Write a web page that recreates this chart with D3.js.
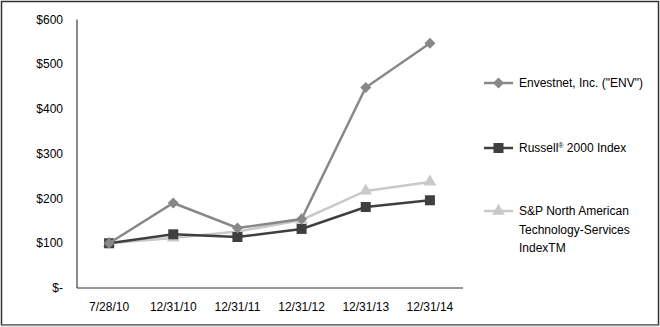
<!DOCTYPE html>
<html><head><meta charset="utf-8">
<script src="https://cdn.jsdelivr.net/npm/d3@7"></script>
<style>body{margin:0;background:#fff}svg{display:block}text{font-family:"Liberation Sans",Arial,sans-serif;font-size:12px;fill:#000}</style>
</head><body><svg id="c" width="660" height="327"></svg>
<script>
const categories = ["7/28/10","12/31/10","12/31/11","12/31/12","12/31/13","12/31/14"];
const envValues = [100,190,134,154,448,547];
const russellValues = [100,120,114,132,181,196];
const spValues = [100,112,126,152,217,237];
const yTicks = [0,100,200,300,400,500,600];
const seriesNames = ['Envestnet, Inc. ("ENV")', 'Russell® 2000 Index', 'S&P North American Technology-Services IndexTM'];

const svg = d3.select("#c");
// outer frame
svg.append("rect").attr("x",1.5).attr("y",1.5).attr("width",657).attr("height",323.5)
  .attr("fill","none").attr("stroke","#333").attr("stroke-width",1.5);
svg.append("line").attr("x1",1).attr("x2",659).attr("y1",325.5).attr("y2",325.5).attr("stroke","#999").attr("stroke-width",1.5);

const x = d3.scalePoint().domain(categories).range([77,462]).padding(0.5);
const y = d3.scaleLinear().domain([0,600]).range([288,19.5]);

// axes lines
svg.append("line").attr("x1",77).attr("x2",77).attr("y1",y(600)).attr("y2",288).attr("stroke","#666").attr("stroke-width",1.5);
svg.append("line").attr("x1",77).attr("x2",463).attr("y1",288).attr("y2",288).attr("stroke","#333").attr("stroke-width",1);

svg.selectAll(".yl").data(yTicks).enter().append("text")
  .attr("x",63).attr("y",d=>y(d)+4).attr("text-anchor","end")
  .text(d=> d===0 ? "$-" : "$"+d);
svg.selectAll(".xl").data(categories).enter().append("text")
  .attr("x",d=>x(d)).attr("y",311).attr("text-anchor","middle").text(d=>d);

const series = [
  {vals: envValues, color:"#888888", marker:"diamond"},
  {vals: russellValues, color:"#3f3f3f", marker:"square"},
  {vals: spValues, color:"#c9c9c9", marker:"triangle"}
];
const drawOrder = [2,1,0];
const line = d3.line().x((d,i)=>x(categories[i])).y(d=>y(d));
function marker(g, type, cx, cy, color){
  if(type==="diamond") g.append("path").attr("d","M0,-5.5L5.5,0L0,5.5L-5.5,0Z").attr("transform",`translate(${cx},${cy})`).attr("fill",color);
  else if(type==="square") g.append("rect").attr("x",cx-5).attr("y",cy-5).attr("width",10).attr("height",10).attr("fill",color);
  else g.append("path").attr("d",d3.symbol(d3.symbolTriangle,70)()).attr("transform",`translate(${cx},${cy})`).attr("fill",color);
}
drawOrder.forEach(k=>{
  const s = series[k];
  svg.append("path").attr("d",line(s.vals)).attr("fill","none").attr("stroke",s.color).attr("stroke-width",2.5);
  s.vals.forEach((v,i)=>marker(svg, s.marker, x(categories[i]), y(v), s.color));
});

// legend
const legY = [83,148,211];
series.forEach((s,k)=>{
  svg.append("line").attr("x1",484).attr("x2",513).attr("y1",legY[k]).attr("y2",legY[k]).attr("stroke",s.color).attr("stroke-width",2.5);
  marker(svg, s.marker, 498.5, legY[k], s.color);
});
svg.append("text").attr("x",519).attr("y",legY[0]+4).text(seriesNames[0]);
const rt = svg.append("text").attr("x",519).attr("y",legY[1]+4);
rt.append("tspan").text("Russell");
rt.append("tspan").attr("font-size","7px").attr("dy",-4).text("®");
rt.append("tspan").attr("dy",4).text(" 2000 Index");
const spLines = ["S&P North American","Technology-Services","IndexTM"];
spLines.forEach((t,i)=>svg.append("text").attr("x",519).attr("y",legY[2]+4+i*18.5).text(t));
</script></body></html>
